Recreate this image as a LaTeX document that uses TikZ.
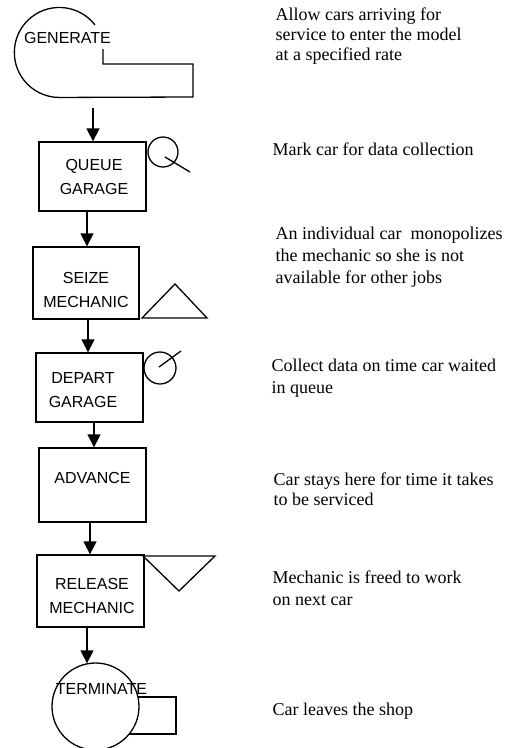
\documentclass[tikz,border=0pt]{standalone}
\usepackage{fontspec}
\setmainfont{Liberation Serif}
\setsansfont{Liberation Sans}
\usetikzlibrary{arrows.meta}
\begin{document}
\begin{tikzpicture}[x=1pt,y=-1pt,line width=1.3pt,
  blk/.style={draw,rectangle,inner sep=0pt},
  lbl/.style={font=\sffamily\fontsize{16}{24}\selectfont,align=center,inner sep=0pt},
  note/.style={font=\fontsize{18}{#1}\selectfont,align=left,anchor=north west,inner sep=0pt},
  note/.default=21,
  arr/.style={-{Triangle[length=13pt,width=13pt]}}]
\useasboundingbox (0,0) rectangle (517,748);

% GENERATE block
\draw (95,25) arc[start angle=-37.6,end angle=-270,radius=45]
      -- (193,97) -- (193,64) -- (103,64) -- (103,49);
\node[lbl] (gen) at (67.5,38) {GENERATE};
\coordinate (genout) at (93,108);

% boxes
\node[blk,minimum width=107pt,minimum height=69pt] (q) at (92.5,176.5) {};
\node[blk,minimum width=106pt,minimum height=72pt] (s) at (86,283) {};
\node[blk,minimum width=107pt,minimum height=69pt] (d) at (89.5,387.5) {};
\node[blk,minimum width=107pt,minimum height=74pt] (a) at (92.5,485) {};
\node[blk,minimum width=107pt,minimum height=72pt] (r) at (90.5,591) {};
\node[draw,circle,minimum size=87pt,inner sep=0pt] (t) at (95.5,706.5) {};

% labels
\node[lbl] (ql) at (94,177) {QUEUE\\GARAGE};
\node[lbl] (sl) at (86,289.5) {SEIZE\\MECHANIC};
\node[lbl] (dl) at (83,390.5) {DEPART\\GARAGE};
\node[lbl] (al) at (92.5,478) {ADVANCE};
\node[lbl] (rl) at (92,596) {RELEASE\\MECHANIC};
\node[lbl] (tl) at (101.5,689) {TERMINATE};

% terminate box
\draw (138,697) -- (176,697) -- (176,734) -- (129,734);

% symbols
\draw (163,152) circle[radius=15];
\draw (165,157) -- (190,172);
\draw (142,318) -- (175,284) -- (207,318) -- cycle;
\draw (160,368) circle[radius=16];
\draw (159,367) -- (181,351);
\draw (143,556) -- (215,556) -- (179,591) -- cycle;

% connectors
\draw[arr] (genout) -- ([xshift=0.5pt]q.north);
\draw[arr] ([xshift=-5.5pt]q.south) -- ([xshift=1pt]s.north);
\draw[arr] ([xshift=2pt]s.south) -- ([xshift=-1.5pt]d.north);
\draw[arr] ([xshift=4.5pt]d.south) -- ([xshift=1.5pt]a.north);
\draw[arr] ([xshift=-2.5pt]a.south) -- ([xshift=-0.5pt]r.north);
\draw[arr] ([xshift=-3.5pt]r.south) -- ([xshift=-8.5pt,yshift=-1pt]t.north);

% notes
\node[note=20] (n1) at (275,7.6) {Allow cars arriving for\\service to enter the model\\at a specified rate};
\node[note] (n2) at (272,142.6) {Mark car for data collection};
\node[note=22] (n3) at (275,226.6) {An individual car\ \ monopolizes\\the mechanic so she is not\\available for other jobs};
\node[note=22] (n4) at (271,358.6) {Collect data on time car waited\\in queue};
\node[note=20] (n5) at (273,472.6) {Car stays here for time it takes\\to be serviced};
\node[note=22] (n6) at (272,570.6) {Mechanic is freed to work\\on next car};
\node[note] (n7) at (272,702.6) {Car leaves the shop};
\end{tikzpicture}
\end{document}
